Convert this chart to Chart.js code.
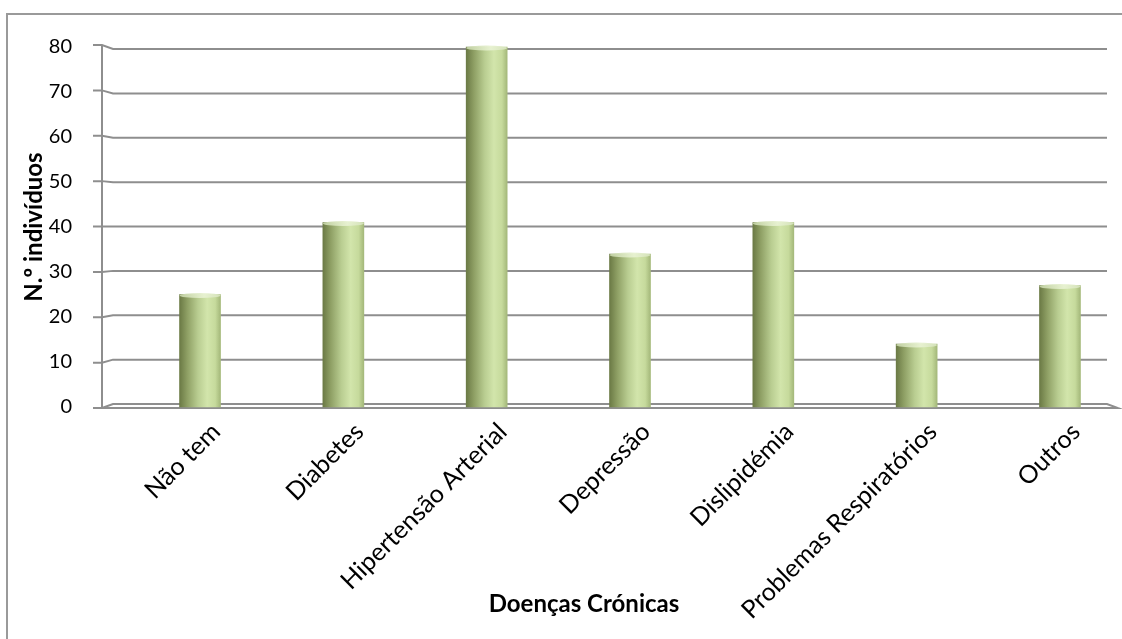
<!DOCTYPE html>
<html>
<head>
<meta charset="utf-8">
<script src="https://cdn.jsdelivr.net/npm/chart.js@4.4.0/dist/chart.umd.min.js"></script>
<style>
  html, body { margin: 0; padding: 0; background: #ffffff; }
  #wrap { width: 1122px; height: 639px; }
</style>
</head>
<body>
<div id="wrap"><canvas id="c" width="1122" height="639"></canvas></div>
<script>
// Chronic diseases reported by the surveyed individuals
const categories = ['Não tem', 'Diabetes', 'Hipertensão Arterial', 'Depressão', 'Dislipidémia', 'Problemas Respiratórios', 'Outros'];
const individuals = [25, 41, 80, 34, 41, 14, 27];
const yTicks = [0, 10, 20, 30, 40, 50, 60, 70, 80];

const FONT = 'Lato, "Open Sans", "DejaVu Sans", sans-serif';
const LINE = '#8e8e8e';

// cylinder-like shading across each bar
function barFill(c) {
  const chart = c.chart;
  if (!chart.chartArea || c.parsed === undefined) return '#b9cd92';
  const cx = chart.scales.x.getPixelForValue(c.parsed.x);
  const g = chart.ctx.createLinearGradient(cx - 20, 0, cx + 20, 0);
  g.addColorStop(0.00, '#6d7c47');
  g.addColorStop(0.18, '#8e9f64');
  g.addColorStop(0.45, '#b9cd91');
  g.addColorStop(0.68, '#d2e5ab');
  g.addColorStop(0.88, '#c6da9c');
  g.addColorStop(1.00, '#a7bb7d');
  return g;
}

// pseudo-3D walls, floor, gridlines and frame
const frame = {
  id: 'frame',
  beforeDraw(chart) {
    const { ctx, width, height } = chart;
    ctx.save();
    ctx.strokeStyle = '#9a9a9a';
    ctx.lineWidth = 2;
    ctx.beginPath();
    ctx.moveTo(7, height);
    ctx.lineTo(7, 14);
    ctx.lineTo(width, 14);
    ctx.stroke();
    ctx.restore();
  },
  beforeDatasetsDraw(chart) {
    const { ctx, chartArea: a, scales: { y } } = chart;
    const top = yTicks[yTicks.length - 1];
    const depth = 11, wallRight = 1107, floorRight = 1118;
    ctx.save();
    ctx.strokeStyle = LINE;
    ctx.lineWidth = 2;
    yTicks.forEach(v => {
      if (v === 0) return;
      const py = y.getPixelForValue(v);
      const yt = py + 1 - 3 * v / top;
      const yg = py - 3 + 5 * v / top;
      ctx.beginPath();
      ctx.moveTo(a.left - 9, yt);
      ctx.lineTo(a.left, yt);
      ctx.lineTo(a.left + depth, yg);
      ctx.lineTo(wallRight, yg);
      ctx.stroke();
    });
    // floor
    const p0 = y.getPixelForValue(0);
    const front = p0 + 1, back = p0 - 3;
    ctx.beginPath();
    ctx.moveTo(a.left - 9, front);
    ctx.lineTo(floorRight, front);
    ctx.lineTo(wallRight, back);
    ctx.lineTo(a.left + depth, back);
    ctx.lineTo(a.left, front);
    ctx.stroke();
    // value axis
    ctx.beginPath();
    ctx.moveTo(a.left, y.getPixelForValue(top) - 2);
    ctx.lineTo(a.left, front);
    ctx.stroke();
    ctx.restore();
  },
  afterDatasetsDraw(chart) {
    // light rim on the top of every column
    const { ctx } = chart;
    const meta = chart.getDatasetMeta(0);
    ctx.save();
    meta.data.forEach(el => {
      const w = el.width;
      const g = ctx.createLinearGradient(el.x - w / 2, 0, el.x + w / 2, 0);
      g.addColorStop(0, 'rgba(200,215,170,0.9)');
      g.addColorStop(0.6, 'rgba(232,242,210,0.95)');
      g.addColorStop(1, 'rgba(215,228,190,0.9)');
      ctx.fillStyle = g;
      ctx.beginPath();
      ctx.ellipse(el.x, el.y + 1, w / 2, 2.5, 0, 0, Math.PI * 2);
      ctx.fill();
    });
    ctx.restore();
  }
};

new Chart(document.getElementById('c'), {
  type: 'bar',
  data: {
    datasets: [{
      data: individuals.map((v, i) => ({ x: i, y: v })),
      backgroundColor: barFill,
      borderWidth: 0,
      barThickness: 41,
      clip: false
    }]
  },
  options: {
    responsive: false,
    animation: false,
    devicePixelRatio: 1,
    layout: { padding: { left: 8, right: 56, top: 47, bottom: 0 } },
    plugins: { legend: { display: false }, tooltip: { enabled: false } },
    scales: {
      x: {
        type: 'linear',
        offset: false,
        min: -0.684,
        max: 6.042,
        grid: { display: false, offset: false },
        border: { display: false },
        afterBuildTicks(s) { s.ticks = categories.map((_, i) => ({ value: i })); },
        afterFit(s) { s.height = 232; s.paddingLeft = 0; s.paddingRight = 0; },
        ticks: {
          autoSkip: false,
          minRotation: 45,
          maxRotation: 45,
          padding: 2,
          labelOffset: 16,
          color: '#000',
          font: { family: FONT, size: 25 },
          callback: v => categories[v]
        },
        title: {
          display: true,
          text: 'Doenças Crónicas',
          color: '#000',
          font: { family: FONT, size: 24, weight: 'bold' },
          padding: { top: 20, bottom: 20 }
        }
      },
      y: {
        min: 0,
        max: 80,
        grid: { display: false },
        border: { display: false },
        afterBuildTicks(s) { s.ticks = yTicks.map(v => ({ value: v })); },
        afterFit(s) { s.width = 94; },
        ticks: {
          padding: 22,
          color: '#000',
          font: { family: FONT, size: 20 }
        },
        title: {
          display: true,
          text: 'N.º indivíduos',
          color: '#000',
          font: { family: FONT, size: 24, weight: 'bold' },
          padding: { top: 12, bottom: 12 }
        }
      }
    }
  },
  plugins: [frame]
});
</script>
</body>
</html>
